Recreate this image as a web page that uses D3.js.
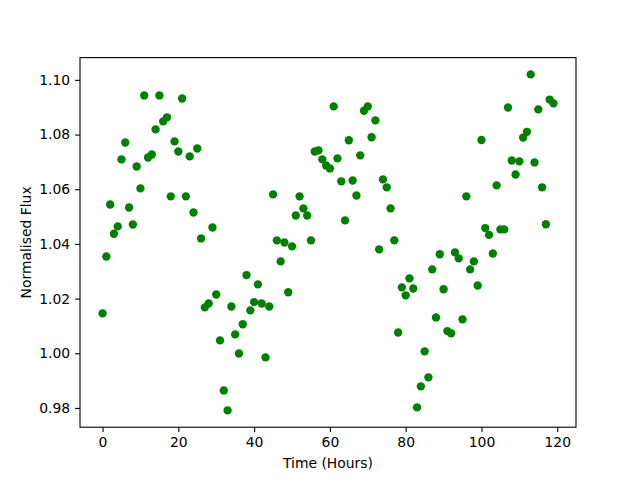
<!DOCTYPE html>
<html>
<head>
<meta charset="utf-8">
<script src="https://cdn.jsdelivr.net/npm/d3@7"></script>
<style>
  body { margin: 0; background: #fff; }
  svg { display: block; font-family: "DejaVu Sans", sans-serif; }
  .axis text { font-size: 13.9px; fill: #000; font-family: "DejaVu Sans", sans-serif; }
  .axis path, .axis line { stroke: #000; stroke-width: 1.1; }
  .axis-label { font-size: 13.9px; fill: #000; }
</style>
</head>
<body>
<div id="chart"></div>
<script>
// Hours since start
const hours = [
  0, 1, 2, 3, 4, 5, 6, 7, 8, 9, 10, 11, 12, 13, 14, 15, 16, 17, 18, 19,
  20, 21, 22, 23, 24, 25, 26, 27, 28, 29, 30, 31, 32, 33, 34, 35, 36, 37, 38, 39,
  40, 41, 42, 43, 44, 45, 46, 47, 48, 49, 50, 51, 52, 53, 54, 55, 56, 57, 58, 59,
  60, 61, 62, 63, 64, 65, 66, 67, 68, 69, 70, 71, 72, 73, 74, 75, 76, 77, 78, 79,
  80, 81, 82, 83, 84, 85, 86, 87, 88, 89, 90, 91, 92, 93, 94, 95, 96, 97, 98, 99,
  100, 101, 102, 103, 104, 105, 106, 107, 108, 109, 110, 111, 112, 113, 114, 115, 116, 117, 118, 119
];

// Normalised flux
const flux = [
  1.0146, 1.0354, 1.0544, 1.0437, 1.0464, 1.0709, 1.0771, 1.0533, 1.0471, 1.0683,
  1.0603, 1.0943, 1.0716, 1.0727, 1.0819, 1.0943, 1.0848, 1.0863, 1.0574, 1.0775,
  1.0738, 1.0932, 1.0574, 1.0720, 1.0515, 1.0749, 1.0420, 1.0168, 1.0182, 1.0460,
  1.0215, 1.0047, 0.9864, 0.9791, 1.0171, 1.0069, 0.9999, 1.0106, 1.0286, 1.0157,
  1.0187, 1.0252, 1.0182, 0.9985, 1.0171, 1.0581, 1.0413, 1.0336, 1.0405, 1.0223,
  1.0391, 1.0504, 1.0574, 1.0530, 1.0504, 1.0413, 1.0738, 1.0742, 1.0709, 1.0687,
  1.0676, 1.0903, 1.0713, 1.0629, 1.0486, 1.0779, 1.0632, 1.0577, 1.0724, 1.0887,
  1.0903, 1.0790, 1.0852, 1.0380, 1.0636, 1.0607, 1.0530, 1.0413, 1.0076, 1.0241,
  1.0212, 1.0274, 1.0237, 0.9802, 0.9879, 1.0007, 0.9912, 1.0307, 1.0131, 1.0362,
  1.0234, 1.0081, 1.0073, 1.0369, 1.0347, 1.0124, 1.0574, 1.0307, 1.0336, 1.0248,
  1.0780, 1.0458, 1.0433, 1.0365, 1.0614, 1.0453, 1.0453, 1.0899, 1.0705, 1.0654,
  1.0702, 1.0789, 1.0810, 1.1020, 1.0698, 1.0892, 1.0607, 1.0472, 1.0928, 1.0914
];

const xTicks = [0, 20, 40, 60, 80, 100, 120];
const yTicks = [0.98, 1.00, 1.02, 1.04, 1.06, 1.08, 1.10];

const width = 640;
const height = 480;
const margin = { top: 57.6, right: 64, bottom: 52.8, left: 80 };
const innerWidth = width - margin.left - margin.right;
const innerHeight = height - margin.top - margin.bottom;

const data = hours.map((h, i) => ({ t: h, v: flux[i] }));

// matplotlib-style 5% padding around the data
function padded(ext) {
  const pad = (ext[1] - ext[0]) * 0.05;
  return [ext[0] - pad, ext[1] + pad];
}

const xScale = d3.scaleLinear()
  .domain(padded(d3.extent(hours)))
  .range([0, innerWidth]);

const yScale = d3.scaleLinear()
  .domain(padded(d3.extent(flux)))
  .range([innerHeight, 0]);

const svg = d3.select("#chart")
  .append("svg")
  .attr("width", width)
  .attr("height", height);

const g = svg.append("g")
  .attr("transform", `translate(${margin.left},${margin.top})`);

// Points
g.append("g")
  .selectAll("circle")
  .data(data)
  .enter()
  .append("circle")
  .attr("cx", d => xScale(d.t))
  .attr("cy", d => yScale(d.v))
  .attr("r", 4.17)
  .attr("fill", "#008000");

// Axes
const xAxis = d3.axisBottom(xScale)
  .tickValues(xTicks)
  .tickFormat(d3.format("d"))
  .tickSizeInner(4.9)
  .tickSizeOuter(0)
  .tickPadding(4.9);

const yAxis = d3.axisLeft(yScale)
  .tickValues(yTicks)
  .tickFormat(d3.format(".2f"))
  .tickSizeInner(4.9)
  .tickSizeOuter(0)
  .tickPadding(4.9);

g.append("g")
  .attr("class", "axis axis-x")
  .attr("transform", `translate(0,${innerHeight})`)
  .call(xAxis)
  .call(s => s.select(".domain").remove());

g.append("g")
  .attr("class", "axis axis-y")
  .call(yAxis)
  .call(s => s.select(".domain").remove());

// Frame (spines)
g.append("rect")
  .attr("x", 0)
  .attr("y", 0)
  .attr("width", innerWidth)
  .attr("height", innerHeight)
  .attr("fill", "none")
  .attr("stroke", "#000")
  .attr("stroke-width", 1.1);

// Axis labels
svg.append("text")
  .attr("class", "axis-label")
  .attr("x", margin.left + innerWidth / 2)
  .attr("y", 468)
  .attr("text-anchor", "middle")
  .text("Time (Hours)");

svg.append("text")
  .attr("class", "axis-label")
  .attr("transform", `translate(31,${margin.top + innerHeight / 2}) rotate(-90)`)
  .attr("text-anchor", "middle")
  .text("Normalised Flux");
</script>
</body>
</html>
